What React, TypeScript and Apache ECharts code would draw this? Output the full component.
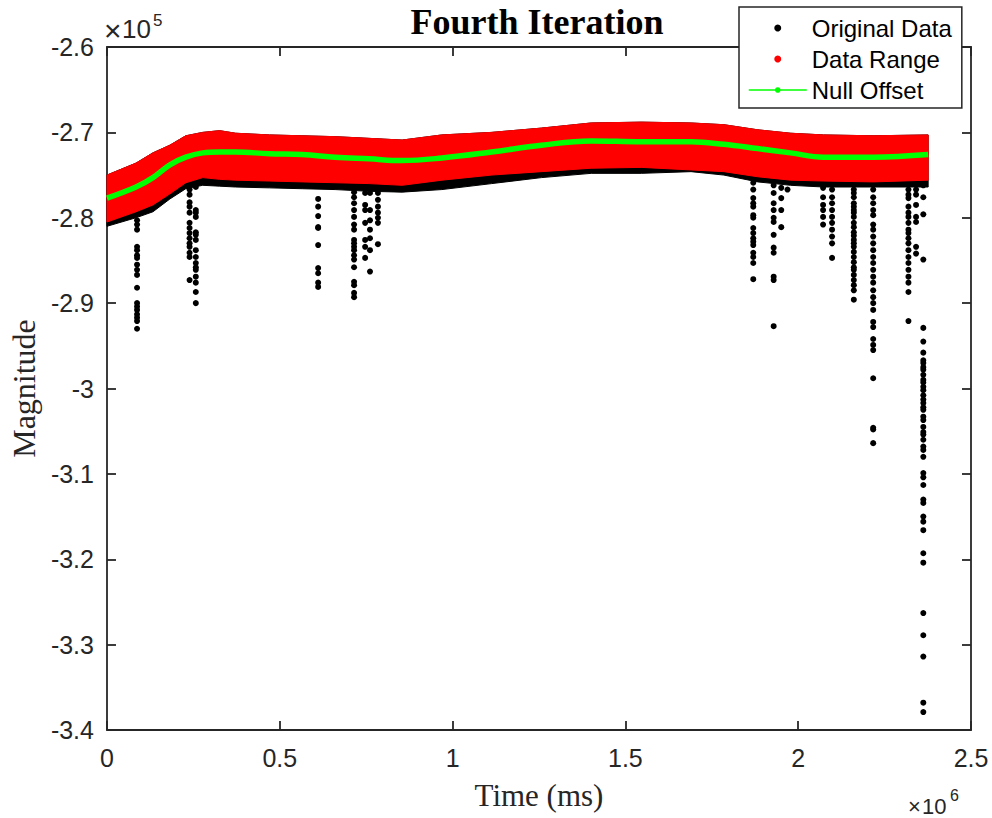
import React, { useEffect, useRef } from 'react';
import * as echarts from 'echarts';

// ---- data (time in ms, magnitude in raw units) ----
const bandTimes = [0, 84000, 133000, 182000, 228000, 277000, 326000, 372000, 470000, 565000, 660000, 758000, 854000, 969000, 1113000, 1257000, 1401000, 1546000, 1690000, 1785000, 1883000, 1978000, 2073000, 2217000, 2376000];
const rangeUpper = [-275000, -273600, -272400, -271500, -270400, -270000, -269800, -270100, -270300, -270400, -270500, -270700, -270900, -270300, -270000, -269500, -268900, -268800, -268900, -269100, -269700, -270100, -270300, -270400, -270300];
const rangeLower = [-280500, -279300, -278500, -277200, -275900, -275300, -275500, -275600, -275700, -275800, -275900, -276000, -276200, -275600, -275000, -274600, -274200, -274100, -274400, -274600, -275200, -275600, -275700, -275800, -275600];
const originalLower = [-281000, -280000, -279300, -277800, -276600, -276200, -276300, -276400, -276500, -276600, -276700, -276900, -277000, -276700, -276000, -275300, -274800, -274800, -274600, -275000, -275800, -276200, -276400, -276400, -276400];
const nullOffset = [-277700, -276400, -275300, -273800, -272900, -272400, -272300, -272300, -272500, -272600, -272900, -273100, -273300, -273000, -272300, -271500, -271000, -271100, -271100, -271400, -271900, -272400, -272900, -272900, -272600];

const spikeTimes = [87000, 239000, 257000, 611000, 715000, 747000, 761000, 784000, 1870000, 1929000, 1951000, 1969000, 2072000, 2098000, 2161000, 2217000, 2319000, 2341000, 2362000];
const spikeValues = [
  [-280300, -280800, -281400, -283400, -283800, -284400, -284700, -285500, -286100, -286700, -288200, -290000, -290400, -290800, -291300, -291700, -292100, -293000],
  [-276700, -277300, -278200, -278700, -279400, -280600, -281200, -281800, -282400, -283000, -283400, -284100, -284600, -287300],
  [-276400, -279100, -279400, -279900, -281700, -282000, -282600, -283800, -284600, -285300, -285800, -286100, -286900, -287600, -288700, -290000],
  [-277800, -278700, -279800, -281100, -281200, -283200, -285900, -286500, -287600, -288100],
  [-277000, -277600, -278300, -279100, -279900, -280800, -281400, -282600, -283000, -283400, -283800, -284400, -284900, -285800, -287500, -287900, -288800, -289300],
  [-277100, -278500, -279100, -280600, -282600, -283400, -284700],
  [-277100, -279100, -280300, -281400, -282400, -283800, -286300],
  [-277100, -277900, -278700, -279400, -280000, -280600, -283100],
  [-275900, -276700, -277700, -278300, -278700, -279700, -280000, -281200, -281800, -282400, -282800, -283200, -284100, -284600, -285300, -287200],
  [-276200, -277100, -278300, -279100, -280000, -280500, -282000, -283500, -284100, -286900, -287300, -292700],
  [-276500, -277700, -279100, -281100],
  [-276700],
  [-276500, -277600, -278500, -279100, -279900, -280800],
  [-276700, -277600, -278300, -279100, -279900, -280600, -281400, -282200, -283000, -284700],
  [-276700, -277100, -277600, -278300, -278700, -279100, -279400, -279900, -280600, -281100, -281700, -282100, -282600, -283000, -283400, -284000, -284600, -285200, -285800, -286100, -286700, -287300, -287900, -288500, -289600],
  [-276700, -277600, -278300, -279100, -279700, -280800, -281400, -282200, -283000, -283800, -284600, -285300, -286100, -286900, -287600, -288500, -289300, -290000, -290800, -292200, -292800, -294200, -294900, -295500, -298800, -304600, -304800, -306400],
  [-276700, -277300, -277700, -278700, -279400, -279900, -280600, -281400, -281800, -282400, -283000, -283800, -284600, -285300, -286100, -286900, -287600, -288700, -292100],
  [-276700, -277300, -278500, -279900, -280500, -283400, -284200],
  [-276200, -277600, -279600, -284900, -292900, -294500, -295800, -296700, -297000, -297500, -297800, -298400, -299000, -299300, -299800, -300200, -300800, -301300, -301700, -302200, -302500, -303300, -303700, -304500, -305100, -305400, -306000, -306800, -307200, -308000, -309900, -310400, -311300, -313000, -313400, -315000, -315600, -316600, -319300, -320400, -326300, -328900, -331400, -336800, -337900],
];

const xTicks = { min: 0, max: 2500000, interval: 500000 };
const yTicks = { min: -340000, max: -260000, interval: 10000 };

const AXIS = '#262626';
const SANS = 'Liberation Sans';
const SERIF = 'Liberation Serif';

const fmt = (v: number) => String(parseFloat(v.toFixed(3)));

function bandRenderer(lower: number[], upper: number[], color: string) {
  return (params: any, api: any) => {
    if (params.dataIndex !== 0) return null;
    const pts: number[][] = [];
    for (let i = 0; i < bandTimes.length; i++) pts.push(api.coord([bandTimes[i], upper[i]]));
    for (let i = bandTimes.length - 1; i >= 0; i--) pts.push(api.coord([bandTimes[i], lower[i]]));
    return {
      type: 'polygon',
      shape: { points: pts },
      style: { fill: color, stroke: color, lineWidth: 1 },
    };
  };
}

export default function App() {
  const ref = useRef<HTMLDivElement>(null);
  useEffect(() => {
    if (!ref.current) return;
    const chart = echarts.init(ref.current, undefined, { renderer: 'svg' });
    const originalBand = bandTimes.map((t, i) => [t, originalLower[i], rangeUpper[i]]);
    const rangeBand = bandTimes.map((t, i) => [t, rangeLower[i], rangeUpper[i]]);
    const spikes: number[][] = [];
    spikeTimes.forEach((t, i) => spikeValues[i].forEach((v) => spikes.push([t, v])));
    const offsetLine = bandTimes.map((t, i) => [t, nullOffset[i]]);

    const axisCommon = {
      type: 'value' as const,
      axisLine: { show: true, onZero: false, lineStyle: { color: AXIS, width: 1.8 } },
      axisTick: { show: true, inside: true, length: 9, lineStyle: { color: AXIS, width: 1.8 } },
      splitLine: { show: false },
    };

    const txt = (text: string, x: number, y: number, size: number, family: string, weight = 'normal', fill = AXIS, align = 'left') => ({
      type: 'text',
      x,
      y,
      style: { text, fontSize: size, fontFamily: family, fontWeight: weight, fill, align, verticalAlign: 'middle' },
    });

    chart.setOption({
      animation: false,
      backgroundColor: '#ffffff',
      grid: { left: 104, top: 47, right: 21, bottom: 88, containLabel: false },
      xAxis: [
        {
          ...axisCommon,
          ...xTicks,
          position: 'bottom',
          axisLabel: { formatter: (v: number) => fmt(v / 1e6), fontSize: 25, fontFamily: SANS, color: AXIS, margin: 15 },
          name: 'Time (ms)',
          nameLocation: 'middle',
          nameGap: 50,
          nameTextStyle: { fontSize: 31, fontFamily: SERIF, color: AXIS },
        },
        { ...axisCommon, ...xTicks, position: 'top', axisLabel: { show: false } },
      ],
      yAxis: [
        {
          ...axisCommon,
          ...yTicks,
          position: 'left',
          axisLabel: { formatter: (v: number) => fmt(v / 1e5), fontSize: 25, fontFamily: SANS, color: AXIS, margin: 13 },
          name: 'Magnitude',
          nameLocation: 'middle',
          nameGap: 66,
          nameTextStyle: { fontSize: 32, fontFamily: SERIF, color: AXIS },
        },
        { ...axisCommon, ...yTicks, position: 'right', axisLabel: { show: false } },
      ],
      legend: {
        orient: 'vertical',
        left: 739,
        top: 7,
        padding: [9, 10, 6, 9],
        itemWidth: 58,
        itemHeight: 7,
        itemGap: 7,
        borderColor: AXIS,
        borderWidth: 1.5,
        backgroundColor: '#ffffff',
        selectedMode: false,
        textStyle: { fontSize: 24, fontFamily: SANS, color: '#000' },
        data: [
          { name: 'Original Data', icon: 'circle', itemStyle: { color: '#000000' } },
          { name: 'Data Range', icon: 'circle', itemStyle: { color: '#ff0000' } },
          { name: 'Null Offset', itemStyle: { color: '#00ff00' }, lineStyle: { width: 1.5, color: '#00ff00' } },
        ],
      },
      graphic: [
        txt('Fourth Iteration', 537, 22, 36, SERIF, 'bold', '#000', 'center'),
        txt('×', 104, 30, 30, SANS),
        txt('10', 122, 29, 26, SANS),
        txt('5', 153, 20, 17, SANS),
        txt('×', 908, 806, 22, SANS),
        txt('10', 922, 806, 22, SANS),
        txt('6', 950, 795, 16, SANS),
      ],
      series: [
        {
          name: 'Original Data',
          type: 'custom',
          data: originalBand,
          encode: { x: 0, y: [1, 2] },
          itemStyle: { color: '#000000' },
          renderItem: bandRenderer(originalLower, rangeUpper, '#000000'),
        },
        {
          name: 'Original Data',
          type: 'scatter',
          data: spikes,
          symbol: 'circle',
          symbolSize: 6,
          itemStyle: { color: '#000000', opacity: 1 },
        },
        {
          name: 'Data Range',
          type: 'custom',
          data: rangeBand,
          encode: { x: 0, y: [1, 2] },
          itemStyle: { color: '#ff0000' },
          renderItem: bandRenderer(rangeLower, rangeUpper, '#ff0000'),
        },
        {
          name: 'Null Offset',
          type: 'line',
          data: offsetLine,
          symbol: 'circle',
          showSymbol: false,
          smooth: 0.4,
          itemStyle: { color: '#00ff00' },
          lineStyle: { color: '#00ff00', width: 5.5 },
        },
      ],
    });
    return () => chart.dispose();
  }, []);
  return <div ref={ref} style={{ position: 'fixed', left: 0, top: 0, width: 992, height: 818 }} />;
}
